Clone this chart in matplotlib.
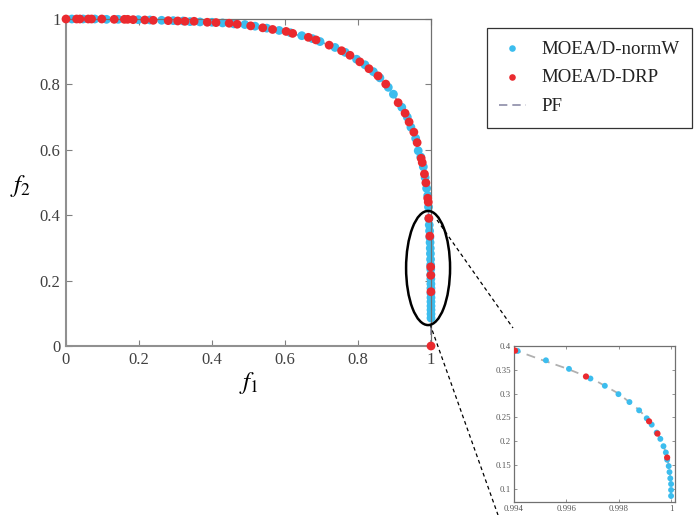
import matplotlib
matplotlib.use("Agg")
import matplotlib.pyplot as plt
from matplotlib.patches import Ellipse
from matplotlib.lines import Line2D

# ---------------- data ----------------
normw_f1 = [0.016, 0.047, 0.079, 0.111, 0.143, 0.198, 0.230, 0.262, 0.294, 0.321,
            0.340, 0.367, 0.400, 0.429, 0.460, 0.490, 0.518, 0.550, 0.584, 0.615,
            0.646, 0.675, 0.696, 0.737, 0.765, 0.796, 0.819, 0.842, 0.860, 0.883,
            0.897, 0.920, 0.935, 0.945, 0.958, 0.965, 0.972, 0.979, 0.984, 0.988,
            0.991, 0.9932,
            0.99414, 0.99522, 0.99610, 0.99692, 0.99747, 0.99799, 0.99841, 0.99878,
            0.99907, 0.99926, 0.99945, 0.99959, 0.99971, 0.99980, 0.99985, 0.99991,
            0.99994, 0.99997, 1.0, 1.0, 1.0]
normw_f2 = [1.000, 1.000, 1.000, 0.999, 0.999, 0.998, 0.997, 0.996, 0.995, 0.994,
            0.992, 0.991, 0.990, 0.988, 0.985, 0.983, 0.978, 0.972, 0.965, 0.958,
            0.949, 0.940, 0.931, 0.913, 0.898, 0.877, 0.860, 0.839, 0.820, 0.791,
            0.770, 0.730, 0.700, 0.669, 0.635, 0.597, 0.578, 0.548, 0.515, 0.482,
            0.460, 0.425,
            0.3896, 0.370, 0.352, 0.3318, 0.3165, 0.299, 0.2824, 0.265,
            0.2483, 0.235, 0.2183, 0.2051, 0.1898, 0.1766, 0.1613, 0.148,
            0.1355, 0.1223, 0.1104, 0.0979, 0.0854]

drp_f1 = [0.000, 0.029, 0.038, 0.061, 0.070, 0.098, 0.132, 0.160, 0.169, 0.184,
          0.216, 0.239, 0.280, 0.306, 0.326, 0.351, 0.387, 0.411, 0.447, 0.469,
          0.506, 0.539, 0.566, 0.603, 0.621, 0.664, 0.685, 0.721, 0.755, 0.778,
          0.805, 0.830, 0.855, 0.876, 0.910, 0.929, 0.940, 0.953, 0.962, 0.973,
          0.976, 0.982, 0.986, 0.991, 0.9925,
          0.99404, 0.99675, 0.99916, 0.99948, 0.99985, 1.0]
drp_f2 = [1.000, 1.000, 1.000, 1.000, 1.000, 1.000, 0.999, 0.999, 0.999, 0.998,
          0.997, 0.996, 0.995, 0.994, 0.993, 0.993, 0.990, 0.989, 0.987, 0.984,
          0.979, 0.973, 0.968, 0.962, 0.956, 0.944, 0.936, 0.920, 0.903, 0.889,
          0.869, 0.848, 0.826, 0.801, 0.744, 0.712, 0.685, 0.654, 0.622, 0.574,
          0.561, 0.526, 0.499, 0.452, 0.440,
          0.3903, 0.336, 0.242, 0.2162, 0.166, 0.0]

pf_f1 = [0.0, 0.2, 0.4, 0.5, 0.6, 0.7, 0.8, 0.9, 0.95, 0.98, 0.99, 0.993,
         0.994, 0.995, 0.996, 0.997, 0.998, 0.9988, 0.9993, 0.9996, 0.9998,
         0.99992, 0.99998, 1.0, 1.0]
pf_f2 = [1.0, 0.998, 0.99, 0.98, 0.962, 0.93, 0.873, 0.765, 0.66, 0.545, 0.465, 0.41,
         0.392, 0.372, 0.353, 0.331, 0.300, 0.265, 0.233, 0.205, 0.177,
         0.148, 0.12, 0.09, 0.0]

main_ticks = [0, 0.2, 0.4, 0.6, 0.8, 1]
main_labels = ["0", "0.2", "0.4", "0.6", "0.8", "1"]
inset_xticks = [0.994, 0.996, 0.998, 1.0]
inset_xlabels = ["0.994", "0.996", "0.998", "1"]
inset_yticks = [0.1, 0.15, 0.2, 0.25, 0.3, 0.35, 0.4]
inset_ylabels = ["0.1", "0.15", "0.2", "0.25", "0.3", "0.35", "0.4"]

# ---------------- style ----------------
plt.rcParams['font.family'] = ['Liberation Serif', 'DejaVu Serif']
plt.rcParams['mathtext.fontset'] = 'stix'

BLUE = '#3cbdee'
RED = '#ea2a2f'
W, H = 696, 515

fig = plt.figure(figsize=(W / 100, H / 100), dpi=100)

def fx(px):
    return px / W

def fy(py):
    return 1 - py / H

# main axes
ax = fig.add_axes([fx(66), fy(346), (431 - 66) / W, (346 - 19) / H])
ax.plot(pf_f1, pf_f2, linestyle=(0, (5, 3)), color='#8c8ca8', lw=1.2,
        zorder=1, label='PF')
ax.scatter(normw_f1, normw_f2, s=40, color=BLUE, edgecolors='none', zorder=2,
           clip_on=False, label='MOEA/D-normW')
ax.scatter(drp_f1, drp_f2, s=40, color=RED, edgecolors='none', zorder=3,
           clip_on=False, label='MOEA/D-DRP')
ax.set_xlim(0, 1)
ax.set_ylim(0, 1)
ax.set_xticks(main_ticks)
ax.set_xticklabels(main_labels)
ax.set_yticks(main_ticks)
ax.set_yticklabels(main_labels)
ax.tick_params(direction='in', top=True, right=True, length=4, width=0.8,
               color='#808080', labelsize=12, labelcolor='#404040', pad=4)
for side in ['top', 'right']:
    ax.spines[side].set_color('#707070')
    ax.spines[side].set_linewidth(0.9)
for side in ['left', 'bottom']:
    ax.spines[side].set_color('#909090')
    ax.spines[side].set_linewidth(1.5)

ax.set_xlabel('$f_1$', fontsize=18, labelpad=2)
ax.set_ylabel('$f_2$', fontsize=18, rotation=0, va='center', ha='center')
ax.yaxis.set_label_coords((20 - 66) / 365, (346 - 186) / 327)

ell = Ellipse((0.992, 0.2385), 0.1205, 0.349, fill=False, ec='black', lw=1.8,
              clip_on=False, zorder=4)
ax.add_patch(ell)

handles, labels = ax.get_legend_handles_labels()
order = [labels.index('MOEA/D-normW'), labels.index('MOEA/D-DRP'), labels.index('PF')]
leg = ax.legend([handles[i] for i in order], [labels[i] for i in order],
                loc='upper left', bbox_to_anchor=(fx(487), fy(28)),
                bbox_transform=fig.transFigure, fontsize=13.6, frameon=True,
                fancybox=False, edgecolor='black', borderpad=0.65,
                handlelength=1.4, handletextpad=0.85, labelspacing=0.62,
                borderaxespad=0, markerscale=0.75)
leg.get_frame().set_linewidth(0.9)
for t in leg.get_texts():
    t.set_color('#222222')

# inset axes
axi = fig.add_axes([fx(514), fy(502), (675 - 514) / W, (502 - 346) / H])
axi.plot(pf_f1, pf_f2, linestyle=(0, (5, 3.5)), color='#b0b0b0', lw=1.3, zorder=1)
axi.scatter(normw_f1, normw_f2, s=18, color=BLUE, edgecolors='none', zorder=2)
axi.scatter(drp_f1, drp_f2, s=20, color=RED, edgecolors='none', zorder=3)
axi.set_xlim(0.994, 1.00015)
axi.set_ylim(0.0727, 0.4)
axi.set_xticks(inset_xticks)
axi.set_xticklabels(inset_xlabels)
axi.set_yticks(inset_yticks)
axi.set_yticklabels(inset_ylabels)
axi.tick_params(direction='in', top=True, right=True, length=2.5, width=0.6,
                color='#808080', labelsize=6.3, labelcolor='#555555', pad=2)
for side in axi.spines:
    axi.spines[side].set_color('#707070')
    axi.spines[side].set_linewidth(0.9)

# connector dashed lines
for (x0, y0), (x1, y1) in [((437, 220), (513, 328)), ((430, 324), (498, 515))]:
    fig.add_artist(Line2D([fx(x0), fx(x1)], [fy(y0), fy(y1)],
                          transform=fig.transFigure, color='black', lw=0.9,
                          linestyle=(0, (3, 2.5))))

fig.savefig('out.png', dpi=100)
